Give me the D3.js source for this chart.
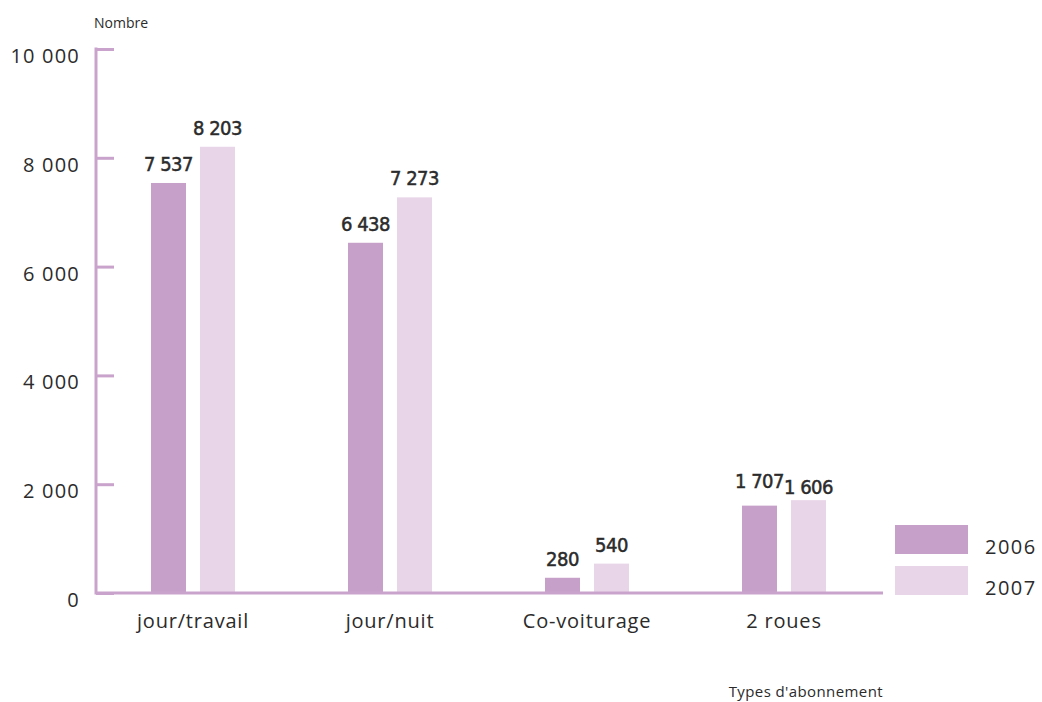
<!DOCTYPE html>
<html><head><meta charset="utf-8">
<script src="https://cdn.jsdelivr.net/npm/d3@7"></script>
<style>
body{margin:0;background:#fff;}
svg{display:block;}
</style></head>
<body>
<svg id="chart" width="1042" height="702"></svg>
<script>
const categories = ["jour/travail", "jour/nuit", "Co-voiturage", "2 roues"];
const series = ["2006", "2007"];
const values2006 = [7537, 6438, 280, 1606];
const values2007 = [8203, 7273, 540, 1707];
const labels2006 = ["7 537", "6 438", "280", "1 707"];
const labels2007 = ["8 203", "7 273", "540", "1 606"];
const yTicks = [0, 2000, 4000, 6000, 8000, 10000];
const yTickLabels = ["0", "2 000", "4 000", "6 000", "8 000", "10 000"];

const colors = {"2006": "#c6a0c8", "2007": "#e8d6e8"};
const axisColor = "#c9a3cb";
const textColor = "#2b2b2b";

const svg = d3.select("#chart");
const x = d3.scaleBand().domain(categories).range([94.5, 882.5]).padding(0);
const y = d3.scaleLinear().domain([0, 10000]).range([593, 49]);
const xs = d3.scaleBand().domain(series).range([-42, 42]).paddingInner(14 / 49).paddingOuter(0);

// bars
const data = categories.map((c, i) => ({
  cat: c,
  vals: [
    {s: "2006", v: values2006[i], lab: labels2006[i]},
    {s: "2007", v: values2007[i], lab: labels2007[i]}
  ]
}));

const groups = svg.append("g").selectAll("g").data(data).join("g")
  .attr("transform", d => `translate(${x(d.cat) + x.bandwidth() / 2},0)`);

groups.selectAll("rect").data(d => d.vals).join("rect")
  .attr("x", d => xs(d.s))
  .attr("width", xs.bandwidth())
  .attr("y", d => y(d.v))
  .attr("height", d => y(0) - y(d.v))
  .attr("fill", d => colors[d.s]);

groups.selectAll("text").data(d => d.vals).join("text")
  .attr("x", d => xs(d.s) + xs.bandwidth() / 2)
  .attr("y", d => y(+d.lab.replace(/\s/g, "")) - 12)
  .attr("text-anchor", "middle")
  .attr("font-family", "'DejaVu Sans Condensed', 'DejaVu Sans', sans-serif")
  .attr("font-stretch", "condensed")
  .attr("font-size", 20)
  .attr("letter-spacing", -0.5)
  .attr("fill", textColor)
  .attr("stroke", textColor)
  .attr("stroke-width", 0.5)
  .text(d => d.lab);

// y axis
const yAxis = d3.axisRight(y).tickValues(yTicks).tickSize(18).tickFormat("");
const ya = svg.append("g").attr("transform", "translate(96,0)").call(yAxis);
ya.select(".domain").remove();
ya.selectAll(".tick line").attr("stroke", axisColor).attr("stroke-width", 3);
svg.append("line").attr("x1", 96).attr("x2", 96).attr("y1", y(10000) - 1.5).attr("y2", y(0) + 1.5)
  .attr("stroke", axisColor).attr("stroke-width", 3);

svg.append("g").selectAll("text").data(yTicks).join("text")
  .attr("x", 80).attr("y", d => y(d) + 14)
  .attr("text-anchor", "end")
  .attr("font-family", "'Open Sans', sans-serif")
  .attr("font-size", 20)
  .attr("letter-spacing", 1.2)
  .attr("fill", textColor)
  .text((d, i) => yTickLabels[i]);

// x axis
const xAxis = d3.axisBottom(x).tickSize(0).tickPadding(21);
const xa = svg.append("g").attr("transform", `translate(0,${y(0)})`).call(xAxis);
xa.select(".domain").attr("stroke", axisColor).attr("stroke-width", 3).attr("d", `M96,0H883`);
xa.selectAll(".tick text")
  .attr("font-family", "'Open Sans', sans-serif")
  .attr("font-size", 20)
  .attr("letter-spacing", 0.8)
  .attr("fill", textColor);

// axis titles
svg.append("text").attr("x", 94).attr("y", 28)
  .attr("font-family", "'Open Sans', sans-serif").attr("font-size", 14)
  .attr("fill", textColor).text("Nombre");
svg.append("text").attr("x", 883).attr("y", 697).attr("text-anchor", "end")
  .attr("font-family", "'Open Sans', sans-serif").attr("font-size", 15)
  .attr("letter-spacing", 0.4)
  .attr("fill", textColor).text("Types d'abonnement");

// legend
const leg = svg.append("g").selectAll("g").data(series).join("g")
  .attr("transform", (d, i) => `translate(895,${525 + i * 41})`);
leg.append("rect").attr("width", 73).attr("height", 29).attr("fill", d => colors[d]);
leg.append("text").attr("x", 90).attr("y", 29)
  .attr("font-family", "'Open Sans', sans-serif").attr("font-size", 20)
  .attr("letter-spacing", 1.5)
  .attr("fill", textColor).text(d => d);
</script>
</body></html>
